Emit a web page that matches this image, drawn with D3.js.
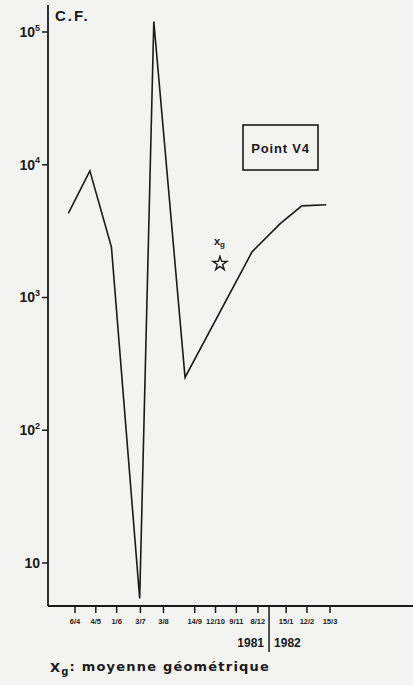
<!doctype html>
<meta charset="utf-8">
<head>
<script src="https://d3js.org/d3.v7.min.js"></script>
<style>
  body { margin: 0; background: #f3f3f1; }
  text { font-family: "Liberation Sans", Arial, sans-serif; font-weight: bold; fill: #1a1a1a; }
</style>
</head>
<body>
<svg width="413" height="685"></svg>
<script>
    // sampling dates shown on the x axis (1981 - 1982)
    let tickDates = [
        new Date(1981, 3, 6), new Date(1981, 4, 4), new Date(1981, 5, 1),
        new Date(1981, 6, 3), new Date(1981, 7, 3), new Date(1981, 8, 14),
        new Date(1981, 9, 12), new Date(1981, 10, 9), new Date(1981, 11, 8),
        new Date(1982, 0, 15), new Date(1982, 1, 12), new Date(1982, 2, 15)
    ];

    // C.F. curve, point V4
    let cfDates = [
        new Date(1981, 2, 28), new Date(1981, 3, 26), new Date(1981, 4, 25),
        new Date(1981, 6, 2), new Date(1981, 6, 21), new Date(1981, 8, 1),
        new Date(1981, 10, 30), new Date(1982, 0, 7), new Date(1982, 1, 5),
        new Date(1982, 2, 10)
    ];
    let cfValues = [4300, 9000, 2400, 5.4, 120000, 250, 2200, 3600, 4900, 5000];

    // geometric mean
    let xgDate = new Date(1981, 9, 18);
    let xgValue = 1830;

    let yTicks = [10, 100, 1000, 10000, 100000];
    let yTickLabels = [["10", ""], ["10", "2"], ["10", "3"], ["10", "4"], ["10", "5"]];

    let svg = d3.select("svg");

    let x = d3.scaleTime()
        .domain([tickDates[0], tickDates[tickDates.length - 1]])
        .range([75, 330]);
    let y = d3.scaleLog()
        .domain([10, 100000])
        .range([563, 32]);

    let axisX = 48, axisY = 606;

    // axes lines
    svg.append("line")
        .attr("x1", axisX).attr("x2", axisX)
        .attr("y1", 5).attr("y2", axisY)
        .attr("stroke", "#1a1a1a").attr("stroke-width", 1.8);
    svg.append("line")
        .attr("x1", axisX).attr("x2", 413)
        .attr("y1", axisY).attr("y2", axisY)
        .attr("stroke", "#1a1a1a").attr("stroke-width", 1.8);

    // y ticks
    let yt = svg.selectAll(".ytick")
        .data(yTicks)
        .enter().append("g")
        .attr("class", "ytick")
        .attr("transform", (d) => "translate(" + axisX + "," + y(d) + ")");
    yt.append("line")
        .attr("x1", -6).attr("x2", 0)
        .attr("stroke", "#1a1a1a").attr("stroke-width", 1.5);
    let ytxt = yt.append("text")
        .attr("x", -8)
        .attr("dy", "0.35em")
        .attr("text-anchor", "end")
        .attr("font-size", 14);
    ytxt.each(function(d, i) {
        let t = d3.select(this);
        t.append("tspan").text(yTickLabels[i][0]);
        if (yTickLabels[i][1]) {
            t.append("tspan")
                .attr("font-size", 9)
                .attr("dy", "-0.7em")
                .text(yTickLabels[i][1]);
        }
    });

    svg.append("text")
        .attr("x", 55).attr("y", 21)
        .attr("font-size", 15)
        .attr("letter-spacing", 2)
        .text("C.F.");

    // x ticks
    let xt = svg.selectAll(".xtick")
        .data(tickDates)
        .enter().append("g")
        .attr("class", "xtick")
        .attr("transform", (d) => "translate(" + x(d) + "," + axisY + ")");
    xt.append("line")
        .attr("y1", 0).attr("y2", 7)
        .attr("stroke", "#1a1a1a").attr("stroke-width", 1.5);
    xt.append("text")
        .attr("y", 18)
        .attr("text-anchor", "middle")
        .attr("font-size", 7.5)
        .text(d3.timeFormat("%-d/%-m"));

    // year separator
    let yearSplit = x(new Date(1981, 11, 23));
    svg.append("line")
        .attr("x1", yearSplit).attr("x2", yearSplit)
        .attr("y1", axisY).attr("y2", 652)
        .attr("stroke", "#1a1a1a").attr("stroke-width", 1.5);
    svg.append("text")
        .attr("x", yearSplit - 5).attr("y", 647)
        .attr("text-anchor", "end")
        .attr("font-size", 12)
        .text("1981");
    svg.append("text")
        .attr("x", yearSplit + 5).attr("y", 647)
        .attr("font-size", 12)
        .text("1982");

    // curve
    let line = d3.line()
        .x((d, i) => x(cfDates[i]))
        .y((d) => y(d));
    svg.append("path")
        .datum(cfValues)
        .attr("fill", "none")
        .attr("stroke", "#1a1a1a")
        .attr("stroke-width", 1.6)
        .attr("stroke-linejoin", "miter")
        .attr("d", line);

    // geometric mean star
    svg.append("path")
        .attr("d", d3.symbol(d3.symbolStar, 60)())
        .attr("transform", "translate(" + x(xgDate) + "," + (y(xgValue) + 1) + ")")
        .attr("fill", "none")
        .attr("stroke", "#1a1a1a")
        .attr("stroke-width", 1.4);
    let xgLab = svg.append("text")
        .attr("x", x(xgDate) - 6).attr("y", y(xgValue) - 18)
        .attr("font-size", 11);
    xgLab.append("tspan").text("x");
    xgLab.append("tspan").attr("font-size", 8).attr("dy", "0.3em").text("g");

    // label box
    svg.append("rect")
        .attr("x", 243).attr("y", 125)
        .attr("width", 75).attr("height", 45)
        .attr("fill", "none")
        .attr("stroke", "#1a1a1a")
        .attr("stroke-width", 1.6);
    svg.append("text")
        .attr("x", 280.5).attr("y", 153)
        .attr("text-anchor", "middle")
        .attr("font-size", 13)
        .attr("letter-spacing", 0.8)
        .text("Point  V4");

    // footnote
    let foot = svg.append("text")
        .attr("x", 50).attr("y", 672)
        .style("font-family", "'DejaVu Sans', sans-serif")
        .attr("font-size", 13)
        .attr("letter-spacing", 1.2);
    foot.append("tspan").text("X");
    foot.append("tspan").attr("font-size", 10).attr("dy", "0.25em").text("g");
    foot.append("tspan").attr("dy", "-0.25em").text(": moyenne géométrique");
</script>
</body>
